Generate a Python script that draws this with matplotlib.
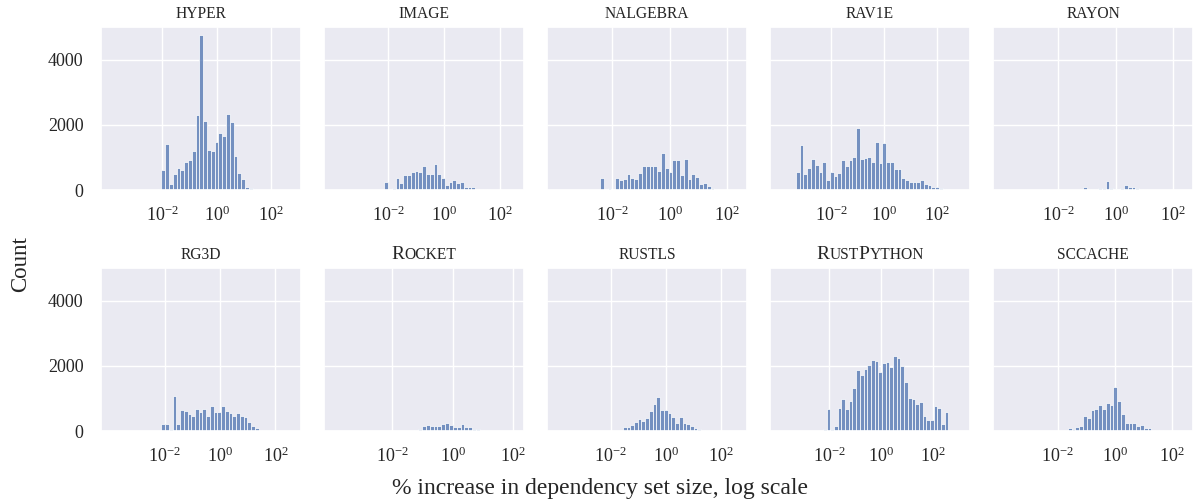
import numpy as np
import matplotlib.pyplot as plt
import seaborn as sns
from matplotlib.offsetbox import TextArea, HPacker, AnchoredOffsetbox
from matplotlib.ticker import FixedLocator, NullLocator, LogFormatterSciNotation

sns.set_theme(style="darkgrid")
plt.rcParams["font.family"] = ["Liberation Serif", "DejaVu Serif"]
plt.rcParams["mathtext.fontset"] = "stix"

projects = ["hyper", "image", "nalgebra", "rav1e", "rayon",
            "rg3d", "Rocket", "rustls", "RustPython", "sccache"]

# left edge of first drawn bin (log10 of %) and bin width in decades
bin_start = [-2.18, -2.14, -2.43, -3.32, -1.655,
             -2.116, -1.53, -2.10, -2.236, -1.787]
bin_width = [0.140, 0.136, 0.133, 0.142, 0.130,
             0.135, 0.128, 0.135, 0.142, 0.133]

# x range of each panel (log10)
x_lo = [-4.26, -4.31, -4.28, -4.30, -4.27,
        -4.29, -4.27, -4.30, -4.27, -4.27]
x_hi = [3.10, 2.88, 2.70, 3.25, 2.69,
        2.92, 2.37, 2.93, 3.42, 2.73]

hyper = [20, 615, 1416, 195, 490, 680, 605, 860, 915, 1210, 2300, 4750, 2135, 1230,
         1190, 1467, 1745, 1670, 2330, 2090, 1045, 535, 330, 100, 50, 20, 15, 15]
image = [255, 30, 50, 370, 225, 470, 470, 545, 585, 565, 740, 490, 500, 800, 480,
         360, 165, 255, 310, 225, 245, 80, 90, 80, 30, 20, 10, 20, 10, 10]
nalgebra = [370, 0, 50, 0, 370, 300, 340, 480, 370, 340, 535, 750, 750, 750, 750, 575,
            1140, 665, 555, 925, 925, 460, 965, 340, 480, 390, 195, 215, 125, 70, 20, 10]
rav1e = [545, 1375, 480, 690, 965, 780, 555, 860, 320, 565, 440, 525, 925, 750, 925,
         1025, 1920, 955, 995, 1005, 860, 1490, 840, 1455, 850, 850, 645, 645, 380,
         320, 245, 245, 245, 310, 195, 155, 105, 90, 70, 40, 40]
rayon = [10, 0, 0, 0, 80, 30, 30, 20, 70, 50, 277, 50, 40, 40, 50, 165, 100, 80,
         60, 30, 30]
rg3d = [225, 225, 60, 1075, 215, 645, 615, 525, 460, 680, 585, 690, 470, 760, 595,
        595, 760, 605, 565, 450, 565, 470, 420, 265, 155, 80, 40, 30, 30, 30, 10]
rocket = [5, 10, 20, 60, 155, 175, 165, 165, 145, 215, 255, 175, 125, 125, 205, 125,
          110, 50, 70, 40, 10, 10, 5]
rustls = [5, 0, 5, 0, 110, 110, 180, 275, 370, 310, 390, 625, 830, 1055, 645, 645,
          555, 440, 255, 440, 235, 205, 165, 90, 50, 40, 10, 5, 5]
rustpython = [60, 665, 60, 145, 705, 990, 685, 915, 1325, 1875, 1720, 1900, 2020,
              2185, 2155, 1815, 2090, 2125, 1980, 2300, 2255, 1990, 1520, 1005, 980,
              830, 900, 470, 345, 325, 765, 705, 225, 590]
sccache = [10, 100, 60, 110, 155, 450, 410, 645, 680, 800, 680, 860, 800, 1340, 920,
           525, 245, 245, 235, 145, 185, 80, 80, 40, 30, 20, 5]

counts = [hyper, image, nalgebra, rav1e, rayon,
          rg3d, rocket, rustls, rustpython, sccache]

TEXT = "#262626"


def smallcaps_title(ax, name, big=14, small=11.2):
    # fake small caps: capitals stay full size, everything else goes upper and smaller
    runs = []
    for ch in name:
        up = ch.isupper()
        if runs and runs[-1][0] == up:
            runs[-1][1] += ch
        else:
            runs.append([up, ch])
    boxes = [TextArea(s if up else s.upper(),
                      textprops=dict(fontsize=big if up else small, color=TEXT))
             for up, s in runs]
    pack = HPacker(children=boxes, align="baseline", pad=0, sep=0)
    anchored = AnchoredOffsetbox(loc="lower center", child=pack, frameon=False,
                                 bbox_to_anchor=(0.5, 1.0), bbox_transform=ax.transAxes,
                                 pad=0, borderpad=0.35)
    ax.add_artist(anchored)


fig, axes = plt.subplots(2, 5, sharey=True, figsize=(11.93, 5.03), dpi=100)
fig.subplots_adjust(left=101 / 1193, right=1.0, top=1 - 27 / 503, bottom=1 - 431 / 503,
                    wspace=0.115, hspace=0.4785)

for i, ax in enumerate(axes.flat):
    c = np.array(counts[i], dtype=float)
    edges = 10 ** (bin_start[i] + bin_width[i] * np.arange(len(c) + 1))
    ax.bar(edges[:-1], c, width=np.diff(edges), align="edge",
           color="#4c72b0", alpha=0.75, edgecolor="white", linewidth=0.7)
    ax.set_xscale("log")
    ax.set_xlim(10 ** x_lo[i], 10 ** x_hi[i])
    ax.xaxis.set_major_locator(FixedLocator([1e-2, 1e0, 1e2]))
    ax.xaxis.set_major_formatter(LogFormatterSciNotation())
    ax.xaxis.set_minor_locator(NullLocator())
    ax.set_ylim(0, 5010)
    ax.set_yticks([0, 2000, 4000])
    ax.tick_params(axis="x", labelsize=13, pad=5, colors=TEXT)
    ax.tick_params(axis="y", labelsize=13, pad=6.5, colors=TEXT)
    smallcaps_title(ax, projects[i])

fig.text(0.017, 0.475, "Count", rotation=90, ha="center", va="center",
         fontsize=16.5, color=TEXT)
fig.text(0.503, 0.028, "% increase in dependency set size, log scale",
         ha="center", va="center", fontsize=17, color=TEXT)

fig.savefig("out.png", dpi=100)
